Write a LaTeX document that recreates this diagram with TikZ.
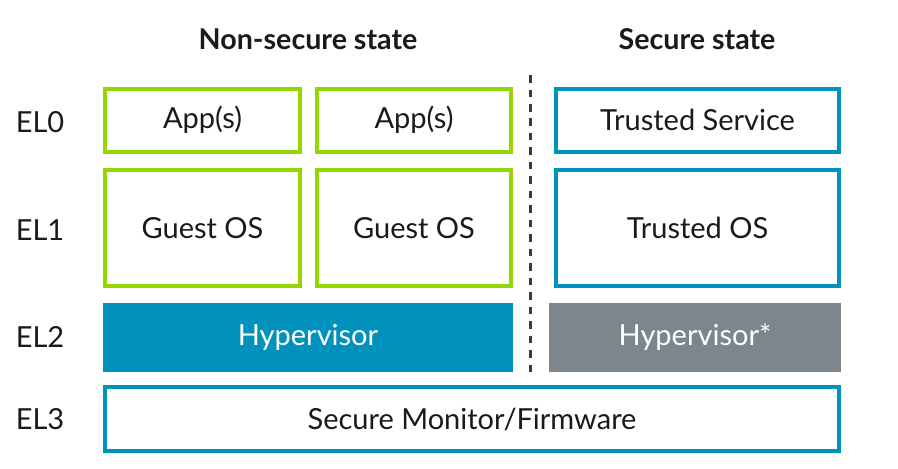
\documentclass[tikz,border=0pt]{standalone}
\usepackage{fontspec}
\setmainfont{Lato}
\usepackage{tikz}
\usetikzlibrary{positioning}
\definecolor{nsgreen}{HTML}{95D600}
\definecolor{sblue}{HTML}{0091BD}
\definecolor{sgray}{HTML}{7D868C}
\definecolor{ink}{HTML}{1A1A1A}
\definecolor{divider}{HTML}{333E48}

\begin{document}
\begin{tikzpicture}[x=0.02cm,y=-0.02cm,
      elbox/.style={rectangle,draw,line width=0.08cm,fill=white,inner sep=0pt,
                    text=ink,font=\fontsize{16.5}{20}\selectfont},
      nsbox/.style={elbox,draw=nsgreen},
      sbox/.style={elbox,draw=sblue},
      hypbox/.style={rectangle,inner sep=0pt,text=white,
                     font=\fontsize{16.5}{20}\selectfont},
      title/.style={font=\bfseries\fontsize{16.3}{19}\selectfont,text=ink},
      level/.style={font=\fontsize{16.5}{20}\selectfont,text=ink}
    ]
    \useasboundingbox (0,0) rectangle (898,468);

    % titles
    \node[title] (nstitle) at (308,39) {Non-secure state};
    \node[title] (stitle)  at (697,39) {Secure state};

    % exception levels
    \node[level] (el0) at (40,122) {EL0};
    \node[level] (el1) at (40,230) {EL1};
    \node[level] (el2) at (40,337) {EL2};
    \node[level] (el3) at (40,419) {EL3};

    % EL0
    \node[nsbox,minimum width=195*0.02cm,minimum height=63*0.02cm] (app1) at (202.5,120) {App(s)};
    \node[nsbox,minimum width=194*0.02cm,minimum height=63*0.02cm] (app2) at (414,120) {App(s)};
    \node[sbox,minimum width=283*0.02cm,minimum height=63*0.02cm] (tsvc) at (697.5,120) {Trusted Service};

    % EL1
    \node[nsbox,minimum width=195*0.02cm,minimum height=116*0.02cm] (guest1) at (202.5,228) {Guest OS};
    \node[nsbox,minimum width=194*0.02cm,minimum height=116*0.02cm] (guest2) at (414,228) {Guest OS};
    \node[sbox,minimum width=283*0.02cm,minimum height=116*0.02cm] (tos) at (697.5,228) {Trusted OS};

    % EL2
    \node[hypbox,fill=sblue,minimum width=410*0.02cm,minimum height=69*0.02cm] (hyp) at (308,337.5) {Hypervisor};
    \node[hypbox,fill=sgray,minimum width=292*0.02cm,minimum height=69*0.02cm] (shyp) at (695,337.5) {Hypervisor*};

    % EL3
    \node[sbox,minimum width=734*0.02cm,minimum height=64*0.02cm] (mon) at (472,419) {Secure Monitor/Firmware};

    % divider
    \coordinate (divtop) at (530,75);
    \coordinate (divbot) at (530,372);
    \draw[divider,line width=0.06cm,dash pattern=on 0.15cm off 0.14cm] (divtop) -- (divbot);

  \end{tikzpicture}
\end{document}
